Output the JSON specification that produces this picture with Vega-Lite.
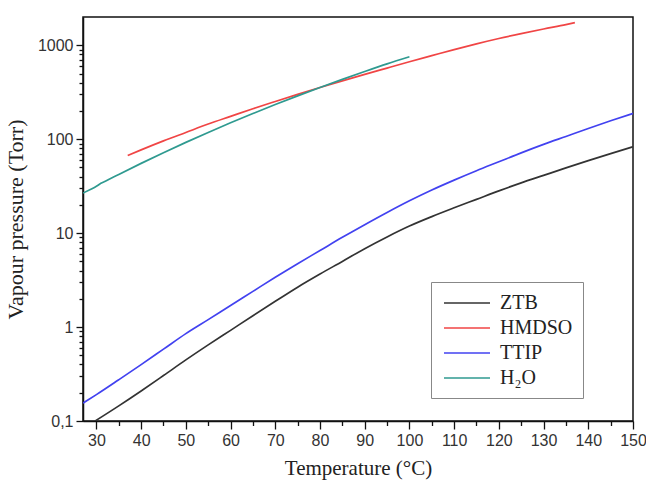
{
  "$schema": "https://vega.github.io/schema/vega-lite/v6.json",
  "autosize": "none",
  "width": 550,
  "height": 404,
  "padding": {"left": 83, "top": 17, "right": 13, "bottom": 60},
  "background": "white",
  "config": {
    "view": {"stroke": "#111", "strokeWidth": 1.5},
    "axis": {
      "domainColor": "#111", "domainWidth": 1.5,
      "tickColor": "#111", "tickWidth": 1.3,
      "grid": false,
      "labelFont": "Liberation Sans", "labelFontSize": 16, "labelColor": "#333",
      "titleFont": "Liberation Serif", "titleFontWeight": "normal", "titleColor": "#222"
    }
  },
  "data": {"values": [
    {"s": "ZTB", "T": 29.7, "P": 0.1},
    {"s": "ZTB", "T": 35, "P": 0.145},
    {"s": "ZTB", "T": 40, "P": 0.209},
    {"s": "ZTB", "T": 45, "P": 0.305},
    {"s": "ZTB", "T": 50, "P": 0.447},
    {"s": "ZTB", "T": 55, "P": 0.646},
    {"s": "ZTB", "T": 60, "P": 0.923},
    {"s": "ZTB", "T": 65, "P": 1.32},
    {"s": "ZTB", "T": 70, "P": 1.88},
    {"s": "ZTB", "T": 75, "P": 2.66},
    {"s": "ZTB", "T": 80, "P": 3.67},
    {"s": "ZTB", "T": 85, "P": 5.0},
    {"s": "ZTB", "T": 90, "P": 6.84},
    {"s": "ZTB", "T": 95, "P": 9.12},
    {"s": "ZTB", "T": 100, "P": 11.9},
    {"s": "ZTB", "T": 105, "P": 15.0},
    {"s": "ZTB", "T": 110, "P": 18.6},
    {"s": "ZTB", "T": 115, "P": 22.9},
    {"s": "ZTB", "T": 120, "P": 28.2},
    {"s": "ZTB", "T": 125, "P": 34.3},
    {"s": "ZTB", "T": 130, "P": 41.2},
    {"s": "ZTB", "T": 135, "P": 49.5},
    {"s": "ZTB", "T": 140, "P": 59.2},
    {"s": "ZTB", "T": 145, "P": 70.3},
    {"s": "ZTB", "T": 150, "P": 83.2},
    {"s": "HMDSO", "T": 37, "P": 67},
    {"s": "HMDSO", "T": 40, "P": 77},
    {"s": "HMDSO", "T": 45, "P": 96},
    {"s": "HMDSO", "T": 50, "P": 118},
    {"s": "HMDSO", "T": 55, "P": 145},
    {"s": "HMDSO", "T": 60, "P": 175},
    {"s": "HMDSO", "T": 65, "P": 211},
    {"s": "HMDSO", "T": 70, "P": 252},
    {"s": "HMDSO", "T": 75, "P": 300},
    {"s": "HMDSO", "T": 80, "P": 355},
    {"s": "HMDSO", "T": 85, "P": 418},
    {"s": "HMDSO", "T": 90, "P": 490},
    {"s": "HMDSO", "T": 95, "P": 572},
    {"s": "HMDSO", "T": 100, "P": 667},
    {"s": "HMDSO", "T": 105, "P": 775},
    {"s": "HMDSO", "T": 110, "P": 900},
    {"s": "HMDSO", "T": 115, "P": 1035},
    {"s": "HMDSO", "T": 120, "P": 1180},
    {"s": "HMDSO", "T": 125, "P": 1330},
    {"s": "HMDSO", "T": 130, "P": 1490},
    {"s": "HMDSO", "T": 135, "P": 1660},
    {"s": "HMDSO", "T": 137, "P": 1740},
    {"s": "TTIP", "T": 27, "P": 0.155},
    {"s": "TTIP", "T": 30, "P": 0.191},
    {"s": "TTIP", "T": 35, "P": 0.275},
    {"s": "TTIP", "T": 40, "P": 0.398},
    {"s": "TTIP", "T": 45, "P": 0.582},
    {"s": "TTIP", "T": 50, "P": 0.851},
    {"s": "TTIP", "T": 55, "P": 1.2},
    {"s": "TTIP", "T": 60, "P": 1.7},
    {"s": "TTIP", "T": 65, "P": 2.4},
    {"s": "TTIP", "T": 70, "P": 3.39},
    {"s": "TTIP", "T": 75, "P": 4.73},
    {"s": "TTIP", "T": 80, "P": 6.53},
    {"s": "TTIP", "T": 85, "P": 9.02},
    {"s": "TTIP", "T": 90, "P": 12.3},
    {"s": "TTIP", "T": 95, "P": 16.6},
    {"s": "TTIP", "T": 100, "P": 22.1},
    {"s": "TTIP", "T": 105, "P": 28.8},
    {"s": "TTIP", "T": 110, "P": 36.7},
    {"s": "TTIP", "T": 115, "P": 46.2},
    {"s": "TTIP", "T": 120, "P": 57.5},
    {"s": "TTIP", "T": 125, "P": 71.6},
    {"s": "TTIP", "T": 130, "P": 88.1},
    {"s": "TTIP", "T": 135, "P": 107},
    {"s": "TTIP", "T": 140, "P": 130},
    {"s": "TTIP", "T": 145, "P": 157},
    {"s": "TTIP", "T": 150, "P": 188},
    {"s": "H₂O", "T": 27, "P": 26.7},
    {"s": "H₂O", "T": 29, "P": 29.6},
    {"s": "H₂O", "T": 30, "P": 31.5},
    {"s": "H₂O", "T": 31, "P": 33.9},
    {"s": "H₂O", "T": 32, "P": 35.7},
    {"s": "H₂O", "T": 35, "P": 42.2},
    {"s": "H₂O", "T": 40, "P": 55.3},
    {"s": "H₂O", "T": 45, "P": 71.9},
    {"s": "H₂O", "T": 50, "P": 92.5},
    {"s": "H₂O", "T": 55, "P": 118.0},
    {"s": "H₂O", "T": 60, "P": 149.4},
    {"s": "H₂O", "T": 65, "P": 187.5},
    {"s": "H₂O", "T": 70, "P": 233.7},
    {"s": "H₂O", "T": 75, "P": 289.1},
    {"s": "H₂O", "T": 80, "P": 355.1},
    {"s": "H₂O", "T": 85, "P": 433.6},
    {"s": "H₂O", "T": 90, "P": 525.8},
    {"s": "H₂O", "T": 95, "P": 633.9},
    {"s": "H₂O", "T": 100, "P": 755}
  ]},
  "mark": {"type": "line", "strokeWidth": 1.7, "clip": true, "interpolate": "monotone"},
  "encoding": {
    "x": {
      "field": "T", "type": "quantitative",
      "scale": {"domain": [27, 150], "nice": false, "zero": false},
      "axis": {
        "title": "Temperature (°C)", "titleFontSize": 21, "titlePadding": 9,
        "values": [30,35,40,45,50,55,60,65,70,75,80,85,90,95,100,105,110,115,120,125,130,135,140,145,150],
        "labelExpr": "datum.value % 10 == 0 ? datum.label : ''",
        "tickSize": {"condition": {"test": "datum.value % 10 == 0", "value": 8}, "value": 4.5},
        "labelPadding": 3, "labelFlush": false, "labelOverlap": false
      }
    },
    "y": {
      "field": "P", "type": "quantitative",
      "scale": {"type": "log", "domain": [0.1, 2000], "nice": false},
      "axis": {
        "title": "Vapour pressure (Torr)", "titleFontSize": 22, "titlePadding": 10,
        "values": [0.1,0.2,0.3,0.4,0.5,0.6,0.7,0.8,0.9,1,2,3,4,5,6,7,8,9,10,20,30,40,50,60,70,80,90,100,200,300,400,500,600,700,800,900,1000],
        "labelExpr": "indexof([0.1,1,10,100,1000], datum.value) >= 0 ? (datum.value == 0.1 ? '0,1' : datum.label) : ''",
        "format": "d",
        "tickSize": {"condition": {"test": "indexof([0.1,1,10,100,1000], datum.value) >= 0", "value": 7}, "value": 4},
        "labelPadding": 3, "labelFlush": false, "labelOverlap": false
      }
    },
    "color": {
      "field": "s", "type": "nominal",
      "scale": {"domain": ["ZTB", "HMDSO", "TTIP", "H₂O"], "range": ["#333333", "#f04545", "#4242f0", "#2f9a90"]},
      "legend": {
        "title": null, "orient": "none", "legendX": 348, "legendY": 265,
        "symbolType": "M-2.3,0H2.3", "symbolSize": 400, "symbolStrokeWidth": 1.7,
        "symbolOffset": 15,
        "labelFont": "Liberation Serif", "labelFontSize": 20, "labelColor": "#222",
        "labelOffset": 22, "rowPadding": 4, "padding": 10,
        "strokeColor": "#888", "fillColor": "white", "cornerRadius": 0
      }
    }
  }
}
